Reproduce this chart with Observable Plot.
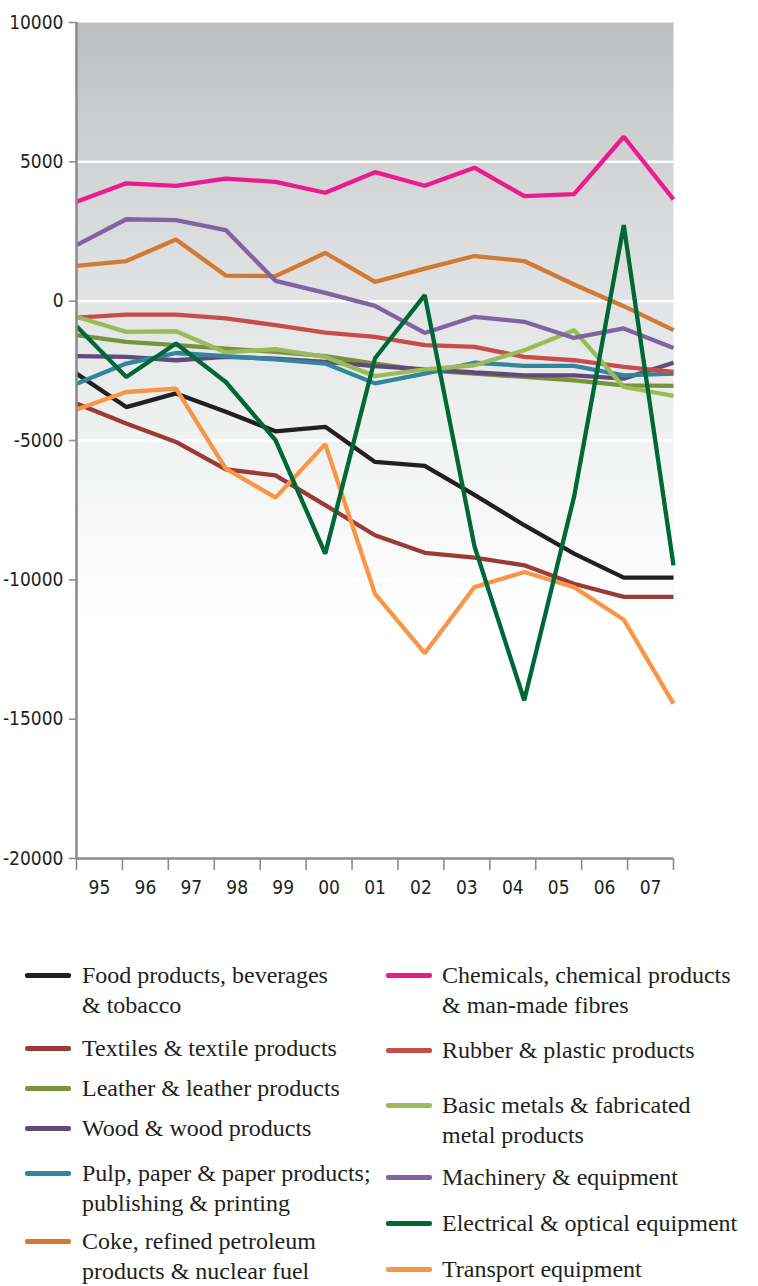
<!DOCTYPE html>
<html>
<head>
<meta charset="utf-8">
<script src="https://cdn.jsdelivr.net/npm/d3@7"></script>
<script src="https://cdn.jsdelivr.net/npm/@observablehq/plot@0.6"></script>
<style>
  html, body { margin: 0; padding: 0; background: #fff; }
  #wrap { width: 758px; height: 1286px; position: relative; overflow: hidden; }
  #legend { position: relative; width: 758px; height: 381px; font-family: "Liberation Serif", "DejaVu Serif", serif; font-size: 24px; color: #231f20; }
  .item { position: absolute; line-height: 30px; white-space: nowrap; }
  .sw { position: absolute; width: 46px; height: 5px; border-radius: 2px; }
</style>
</head>
<body>
<div id="wrap">
  <div id="chart"></div>
  <div id="legend"></div>
</div>
<script>
// ---------- data ----------
const years = [1995, 1996, 1997, 1998, 1999, 2000, 2001, 2002, 2003, 2004, 2005, 2006, 2007];
const yearLabels = ["95", "96", "97", "98", "99", "00", "01", "02", "03", "04", "05", "06", "07"];
const yTicks = [10000, 5000, 0, -5000, -10000, -15000, -20000];

const food        = [-2600, -3800, -3310, -3970, -4670, -4510, -5770, -5910, -6950, -8040, -9060, -9920, -9920];
const textiles    = [-3670, -4390, -5050, -6040, -6250, -7320, -8400, -9030, -9200, -9480, -10140, -10610, -10610];
const leather     = [-1220, -1460, -1580, -1700, -1820, -1975, -2240, -2480, -2600, -2720, -2840, -3020, -3040];
const wood        = [-1975, -2000, -2120, -2000, -2060, -2180, -2330, -2450, -2560, -2660, -2660, -2780, -2210];
const pulp        = [-2960, -2240, -1860, -1975, -2090, -2240, -2950, -2600, -2210, -2320, -2320, -2660, -2600];
const coke        = [1270, 1440, 2210, 920, 900, 1730, 690, 1170, 1620, 1440, 600, -180, -1040];
const chemicals   = [3570, 4230, 4140, 4400, 4280, 3890, 4630, 4140, 4790, 3770, 3840, 5900, 3650];
const rubber      = [-590, -480, -480, -620, -860, -1125, -1280, -1580, -1640, -2000, -2120, -2360, -2540];
const basicMetals = [-560, -1100, -1080, -1840, -1720, -2000, -2690, -2450, -2300, -1760, -1040, -3080, -3400];
const machinery   = [2010, 2940, 2910, 2550, 730, 300, -170, -1140, -560, -740, -1320, -980, -1680];
const electrical  = [-900, -2720, -1520, -2900, -4990, -9060, -2050, 215, -8800, -14320, -7030, 2730, -9480];
const transport   = [-3890, -3260, -3140, -6010, -7050, -5130, -10500, -12630, -10260, -9720, -10260, -11430, -14440];

const seriesNames = [
  "Food products, beverages & tobacco",
  "Textiles & textile products",
  "Leather & leather products",
  "Wood & wood products",
  "Pulp, paper & paper products; publishing & printing",
  "Coke, refined petroleum products & nuclear fuel",
  "Chemicals, chemical products & man-made fibres",
  "Rubber & plastic products",
  "Basic metals & fabricated metal products",
  "Machinery & equipment",
  "Electrical & optical equipment",
  "Transport equipment"
];
const seriesValues = [food, textiles, leather, wood, pulp, coke, chemicals, rubber, basicMetals, machinery, electrical, transport];
const seriesColors = ["#231f20", "#9b3a38", "#77933c", "#604a7b", "#31859c", "#d07a32",
                      "#ec1a8c", "#c94c4c", "#9bbb59", "#8064a2", "#006837", "#f79646"];

// legend text (line breaks as in the original)
const legendLines = [
  ["Food products, beverages", "& tobacco"],
  ["Textiles & textile products"],
  ["Leather & leather products"],
  ["Wood & wood products"],
  ["Pulp, paper & paper products;", "publishing & printing"],
  ["Coke, refined petroleum", "products & nuclear fuel"],
  ["Chemicals, chemical products", "& man-made fibres"],
  ["Rubber & plastic products"],
  ["Basic metals & fabricated", "metal products"],
  ["Machinery & equipment"],
  ["Electrical & optical equipment"],
  ["Transport equipment"]
];

// ---------- table ----------
const rows = [];
seriesNames.forEach((name, s) => {
  years.forEach((yr, i) => rows.push({series: name, year: yr, value: seriesValues[s][i]}));
});
// drawing order: electrical on top
const drawOrder = [0, 1, 11, 2, 3, 4, 5, 6, 7, 8, 9, 10];

// x axis: 13 bands across the year range; labels in band centres, ticks at band edges
const x0 = years[0], x1 = years[years.length - 1];
const nb = yearLabels.length;
const bandEdges = d3.range(nb + 1).map(k => x0 + k * (x1 - x0) / nb);
const bandCentres = d3.range(nb).map(k => x0 + (k + 0.5) * (x1 - x0) / nb);

const axisFont = `"Liberation Sans Narrow", "DejaVu Sans Condensed", "Liberation Sans", sans-serif`;

const chart = Plot.plot({
  width: 758,
  height: 905,
  marginLeft: 76,
  marginRight: 85,
  marginTop: 22,
  marginBottom: 47,
  style: {fontFamily: axisFont, fontSize: "19px", color: "#231f20", background: "transparent", overflow: "visible"},
  x: {domain: [x0, x1], axis: null},
  y: {domain: [yTicks[yTicks.length - 1], yTicks[0]], axis: null},
  color: {domain: seriesNames, range: seriesColors},
  marks: [
    Plot.frame({fill: "url(#bggrad)", stroke: "none"}),
    Plot.ruleY(yTicks.slice(1, -1), {stroke: "#ffffff", strokeWidth: 2.5}),
    ...drawOrder.map(s =>
      Plot.line(rows.filter(r => r.series === seriesNames[s]), {
        x: "year", y: "value", stroke: seriesColors[s], strokeWidth: 4.3,
        strokeLinejoin: "miter", strokeLinecap: "butt"
      })
    ),
    // y axis
    Plot.axisY(yTicks, {anchor: "left", label: null, tickSize: 7, tickPadding: 6, stroke: "#8c8c8c", strokeWidth: 1.6,
      tickFormat: d => String(d), fill: "#231f20", fontSize: 19}),
    Plot.ruleX([x0], {stroke: "#8c8c8c", strokeWidth: 2.6}),
    // x axis
    Plot.axisX(bandEdges, {anchor: "bottom", label: null, tickSize: 12, stroke: "#8c8c8c", strokeWidth: 1.6, tickFormat: () => ""}),
    Plot.axisX(bandCentres, {anchor: "bottom", label: null, tickSize: 0, tickPadding: 22, fill: "#231f20", fontSize: 19,
      tickFormat: d => yearLabels[bandCentres.indexOf(d)]}),
    Plot.ruleY([yTicks[yTicks.length - 1]], {stroke: "#8c8c8c", strokeWidth: 2.6})
  ]
});

// gradient definition for the plot background
const defs = d3.select(chart).insert("defs", ":first-child");
const grad = defs.append("linearGradient").attr("id", "bggrad").attr("x1", 0).attr("y1", 0).attr("x2", 0).attr("y2", 1);
[[0, "#bdbec0"], [0.17, "#d2d3d5"], [0.33, "#e2e3e4"], [0.5, "#f0f1f1"], [0.68, "#fdfdfd"], [0.71, "#ffffff"], [1, "#ffffff"]]
  .forEach(([o, c]) => grad.append("stop").attr("offset", o).attr("stop-color", c));

document.getElementById("chart").appendChild(chart);

// ---------- legend ----------
const legend = d3.select("#legend");
const colLeft = [25, 386];
const textLeft = [82, 442];
const firstLineCentre = [70, 143, 183, 223, 268, 336, 70, 145, 200, 272, 318, 364];
seriesNames.forEach((name, s) => {
  const col = s < 6 ? 0 : 1;
  const cy = firstLineCentre[s];
  legend.append("div").attr("class", "sw")
    .style("left", colLeft[col] + "px").style("top", (cy - 2) + "px")
    .style("background", seriesColors[s]);
  legend.append("div").attr("class", "item")
    .style("left", textLeft[col] + "px").style("top", (cy - 15) + "px")
    .html(legendLines[s].join("<br>"));
});
</script>
</body>
</html>
